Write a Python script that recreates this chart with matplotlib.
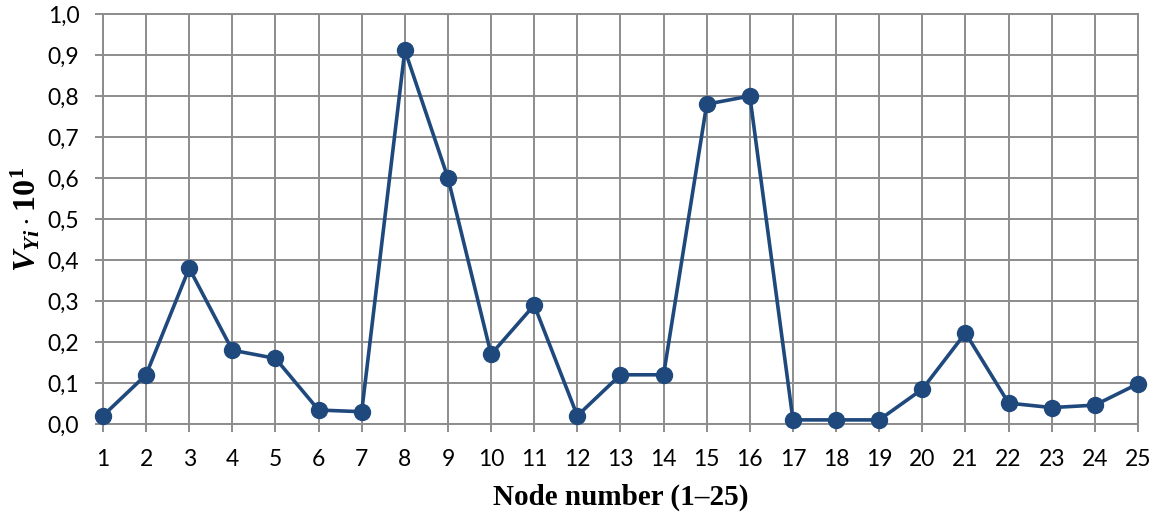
import matplotlib
matplotlib.use("Agg")
import matplotlib.pyplot as plt

# Data
nodes = list(range(1, 26))
values = [0.02, 0.12, 0.38, 0.18, 0.16, 0.034, 0.03, 0.912, 0.60, 0.17,
          0.29, 0.02, 0.12, 0.12, 0.78, 0.80, 0.01, 0.01, 0.01, 0.085,
          0.222, 0.051, 0.04, 0.046, 0.098]
y_ticks = [i / 10 for i in range(11)]
y_tick_labels = [f"{t:.1f}".replace(".", ",") for t in y_ticks]

plt.rcParams["font.family"] = ["Lato", "DejaVu Sans"]
plt.rcParams["mathtext.fontset"] = "custom"
plt.rcParams["mathtext.rm"] = "Liberation Serif:bold"
plt.rcParams["mathtext.it"] = "Liberation Serif:italic:bold"
plt.rcParams["mathtext.bf"] = "Liberation Serif:bold"

grid_col = "#8c8c8c"
line_col = "#1f497d"

fig = plt.figure(figsize=(11.49, 5.17), dpi=100)
ax = fig.add_axes([0.0896, 0.1799, 0.9904 - 0.0896, 0.9729 - 0.1799])

ax.plot(nodes, values, color=line_col, linewidth=2.6, marker="o",
        markersize=11.5, zorder=3, clip_on=False)

ax.set_xlim(1, 25)
ax.set_ylim(0, 1.0)
ax.set_xticks(nodes)
ax.set_yticks(y_ticks)
ax.set_yticklabels(y_tick_labels)
ax.grid(True, color=grid_col, linewidth=1.4)
ax.set_axisbelow(True)
for s in ax.spines.values():
    s.set_color(grid_col)
    s.set_linewidth(1.4)

ax.tick_params(axis="both", colors=grid_col, length=6, width=1.4,
               labelcolor="black", labelsize=16.5)
ax.tick_params(axis="x", pad=12)
ax.tick_params(axis="y", pad=11)

ax.set_xlabel("Node number (1\u201325)", fontfamily="Liberation Serif",
              fontweight="bold", fontsize=21, labelpad=10)
ax.set_ylabel(r"$V_{Yi}\cdot\mathrm{10}^{\mathrm{1}}$", fontsize=23, labelpad=4)

fig.savefig("out.png", dpi=100)
